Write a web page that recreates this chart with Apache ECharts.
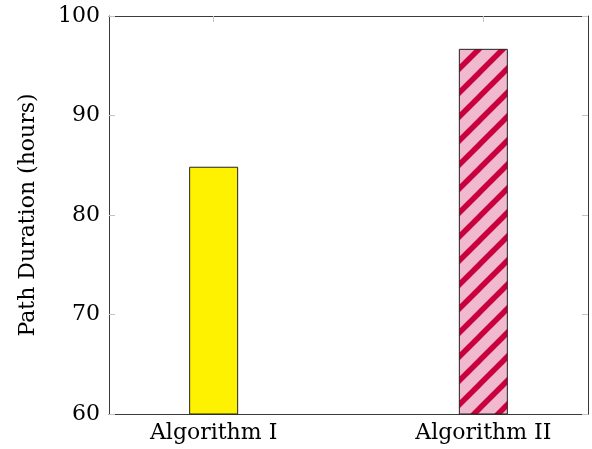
<!DOCTYPE html>
<html>
<head>
<meta charset="utf-8">
<script src="https://cdn.jsdelivr.net/npm/echarts@6/dist/echarts.min.js"></script>
<style>html,body{margin:0;padding:0;background:#fff;}#c{width:592px;height:449px;}</style>
</head>
<body>
<div id="c"></div>
<script>
var categories = ['Algorithm I', 'Algorithm II'];
var durations = [84.85, 96.7];
var yTicks = [60, 70, 80, 90, 100];

function hatch() {
  var p = 24, c = document.createElement('canvas');
  c.width = p; c.height = p;
  var g = c.getContext('2d');
  g.fillStyle = '#f1b9cd';
  g.fillRect(0, 0, p, p);
  g.strokeStyle = '#c9003d';
  g.lineWidth = 5.5;
  g.beginPath();
  g.moveTo(-2, p + 2); g.lineTo(p + 2, -2);
  g.moveTo(-p / 2, p / 2); g.lineTo(p / 2, -p / 2);
  g.moveTo(p / 2, p * 1.5); g.lineTo(p * 1.5, p / 2);
  g.stroke();
  return c;
}
var fills = ['#fff200', {image: hatch(), repeat: 'repeat'}];

var font = {fontFamily: 'DejaVu Serif', fontSize: 22, color: '#000'};
var chart = echarts.init(document.getElementById('c'));
var frameLine = {show: true, onZero: false, lineStyle: {color: '#3a3a3a', width: 1}};
var tickStyle = {show: true, inside: true, length: 6, lineStyle: {color: '#c4c4c4', width: 1}};
chart.setOption({
  animation: false,
  grid: {left: 109, top: 16, right: 4, bottom: 35, containLabel: false, outerBoundsMode: 'none'},
  xAxis: [{
    type: 'value', min: -0.388, max: 1.388, position: 'bottom',
    axisLine: frameLine, splitLine: {show: false},
    axisTick: Object.assign({customValues: [0, 1]}, tickStyle),
    axisLabel: Object.assign({customValues: [0, 1], margin: 8, formatter: function (v) { return categories[Math.round(v)]; }}, font)
  }, {
    type: 'value', min: -0.388, max: 1.388, position: 'top',
    axisLine: frameLine, splitLine: {show: false},
    axisTick: Object.assign({customValues: [0, 1]}, tickStyle),
    axisLabel: {show: false}
  }],
  yAxis: [{
    type: 'value', min: yTicks[0], max: yTicks[yTicks.length - 1], interval: 10, position: 'left',
    axisLine: frameLine, splitLine: {show: false}, axisTick: tickStyle,
    axisLabel: Object.assign({margin: 9}, font),
    name: 'Path Duration (hours)', nameLocation: 'middle', nameGap: 70,
    nameTextStyle: font
  }, {
    type: 'value', min: yTicks[0], max: yTicks[yTicks.length - 1], interval: 10, position: 'right',
    axisLine: frameLine, splitLine: {show: false}, axisTick: tickStyle,
    axisLabel: {show: false}
  }],
  series: [{
    type: 'bar', barWidth: 49,
    data: durations.map(function (v, i) {
      return {value: [i, v], itemStyle: {color: fills[i], borderColor: '#222', borderWidth: 1}};
    })
  }]
});
</script>
</body>
</html>
